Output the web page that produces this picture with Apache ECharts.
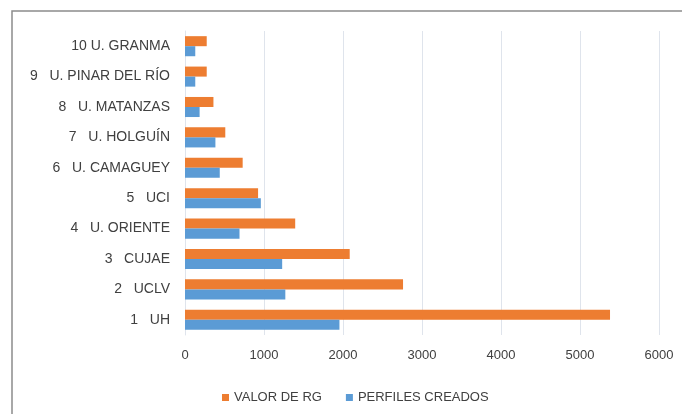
<!DOCTYPE html>
<html>
<head>
<meta charset="utf-8">
<script src="https://cdn.jsdelivr.net/npm/echarts@6/dist/echarts.min.js"></script>
<style>
  html, body { margin: 0; padding: 0; background: #fff; }
  #chart { width: 682px; height: 414px; }
</style>
</head>
<body>
<div id="chart"></div>
<script>
// universidades, de abajo (1) hacia arriba (10)
const categories = ['1   UH', '2   UCLV', '3   CUJAE', '4   U. ORIENTE', '5   UCI',
  '6   U. CAMAGUEY', '7   U. HOLGUÍN', '8   U. MATANZAS', '9   U. PINAR DEL RÍO', '10 U. GRANMA']
const valorRG = [5380, 2760, 2085, 1395, 925, 730, 510, 360, 275, 275]
const perfilesCreados = [1955, 1270, 1230, 690, 960, 440, 385, 185, 130, 130]
const xTicks = [0, 1000, 2000, 3000, 4000, 5000, 6000]

const chart = echarts.init(document.getElementById('chart'))

const labelColor = '#404040'
const font = 'Liberation Sans, Arial, sans-serif'

chart.setOption({
  animation: false,
  graphic: [
    {
      type: 'rect',
      shape: { x: 12, y: 11, width: 700, height: 420 },
      style: { fill: 'none', stroke: '#8c8c8c', lineWidth: 1.5 },
      silent: true
    }
  ],
  legend: {
    left: 217,
    top: 386,
    icon: 'rect',
    itemWidth: 7,
    itemHeight: 7,
    itemGap: 24,
    textStyle: { color: labelColor, fontSize: 13, fontFamily: font }
  },
  grid: {
    left: 185,
    right: 23,
    top: 31,
    bottom: 79
  },
  xAxis: {
    type: 'value',
    min: xTicks[0],
    max: xTicks[xTicks.length - 1],
    interval: 1000,
    axisLine: { show: false },
    axisTick: { show: false },
    splitLine: { lineStyle: { color: '#dfe4ec', width: 1 } },
    axisLabel: {
      color: labelColor, fontSize: 13, fontFamily: font, margin: 14,
      formatter: v => String(v)
    }
  },
  yAxis: {
    type: 'category',
    data: categories,
    axisLine: { lineStyle: { color: '#dfe4ec' } },
    axisTick: { show: false },
    axisLabel: { color: labelColor, fontSize: 14, fontFamily: font, margin: 15 }
  },
  series: [
    {
      name: 'VALOR DE RG',
      type: 'bar',
      data: valorRG,
      barGap: '0%',
      barCategoryGap: '34%',
      itemStyle: { color: '#ed7d31' }
    },
    {
      name: 'PERFILES CREADOS',
      type: 'bar',
      data: perfilesCreados,
      itemStyle: { color: '#5b9bd5' }
    }
  ]
})
</script>
</body>
</html>
